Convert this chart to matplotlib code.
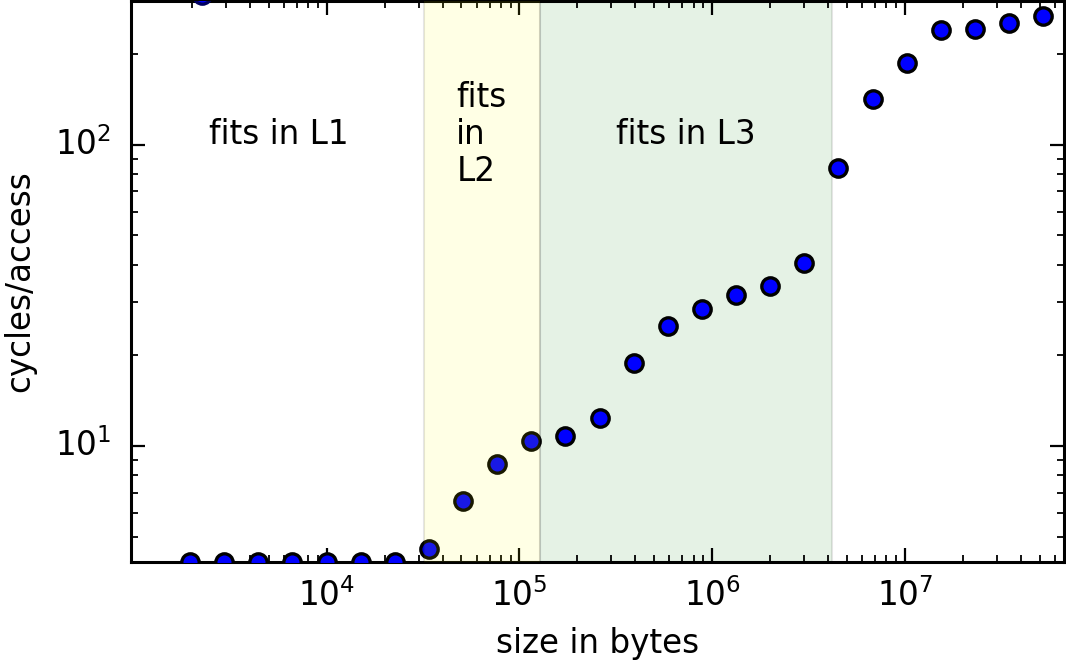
import math
import matplotlib
matplotlib.use("Agg")
import matplotlib.pyplot as plt

plt.style.use("classic")
plt.rcParams["font.family"] = ["DejaVu Sans"]

# data
sizes = [1960, 2945, 4426, 6653, 10000, 15030, 22590, 33960, 51050, 76730,
         115300, 173400, 260500, 391600, 588600, 884700, 1330000, 1998000,
         3003000, 4515000, 6786000, 10200000, 15330000, 23040000, 34640000,
         52060000]
cycles = [4.13, 4.13, 4.13, 4.13, 4.13, 4.13, 4.13, 4.54, 6.58, 8.71,
          10.39, 10.8, 12.39, 18.82, 25.04, 28.58, 31.82, 34.09, 40.46, 83.9,
          142, 187, 240, 242, 254, 267]
outlier_size = [2255]
outlier_cycles = [313]

x_major_ticks = [1e4, 1e5, 1e6, 1e7]
l1_bounds = [1000, 32000]
l2_bounds = [32000, 128000]
l3_bounds = [128000, 4200000]
region_labels = ["fits in L1", "fits\nin\nL2", "fits in L3"]
label_y = 108

W, H = 1066, 660
fig = plt.figure(figsize=(W / 100, H / 100), dpi=100, facecolor="white")
ax = fig.add_axes([131 / W, (H - 562) / H, (1064 - 131) / W, 561 / H])
ax.set_xscale("log")
ax.set_yscale("log")

ax.axvspan(l2_bounds[0], l2_bounds[1], facecolor="yellow", edgecolor="black",
           alpha=0.1, linewidth=1.5, zorder=5)
ax.axvspan(l3_bounds[0], l3_bounds[1], facecolor="green", edgecolor="black",
           alpha=0.1, linewidth=1.5, zorder=1)

ax.plot(sizes, cycles, linestyle="none", marker="o", markersize=12.5,
        markerfacecolor="#0000ff", markeredgecolor="black",
        markeredgewidth=2.4, zorder=3)
ax.plot(outlier_size, outlier_cycles, linestyle="none", marker="o",
        markersize=12.5, markerfacecolor="#0000ff", markeredgecolor="#000060",
        markeredgewidth=2.4, zorder=3)

fs = 23.5
xc = [math.sqrt(l1_bounds[0] * l1_bounds[1]),
      math.sqrt(l2_bounds[0] * l2_bounds[1]),
      math.sqrt(l3_bounds[0] * l3_bounds[1])]
ax.text(xc[0], label_y, region_labels[0], ha="center", va="center", fontsize=fs, zorder=6)
ax.text(l2_bounds[0] * 1.47, label_y, region_labels[1], ha="left", va="center",
        fontsize=fs, linespacing=1.15, zorder=6)
ax.text(xc[2], label_y, region_labels[2], ha="center", va="center", fontsize=fs, zorder=6)

ax.set_xlim(967, 6.68e7)
ax.set_ylim(4.12, 300)
ax.set_xticks(x_major_ticks)

for s in ax.spines.values():
    s.set_linewidth(2.2)
ax.tick_params(which="major", direction="in", length=10, width=1.6,
               labelsize=fs, top=True, right=True)
ax.tick_params(axis="x", which="major", pad=12)
ax.tick_params(axis="y", which="major", pad=14)
ax.tick_params(which="minor", direction="in", length=5, width=1.3,
               top=True, right=True)

ax.set_xlabel("size in bytes", fontsize=fs, labelpad=10)
ax.set_ylabel("cycles/access", fontsize=fs, labelpad=14)

fig.savefig("out.png", dpi=100, facecolor="white")
